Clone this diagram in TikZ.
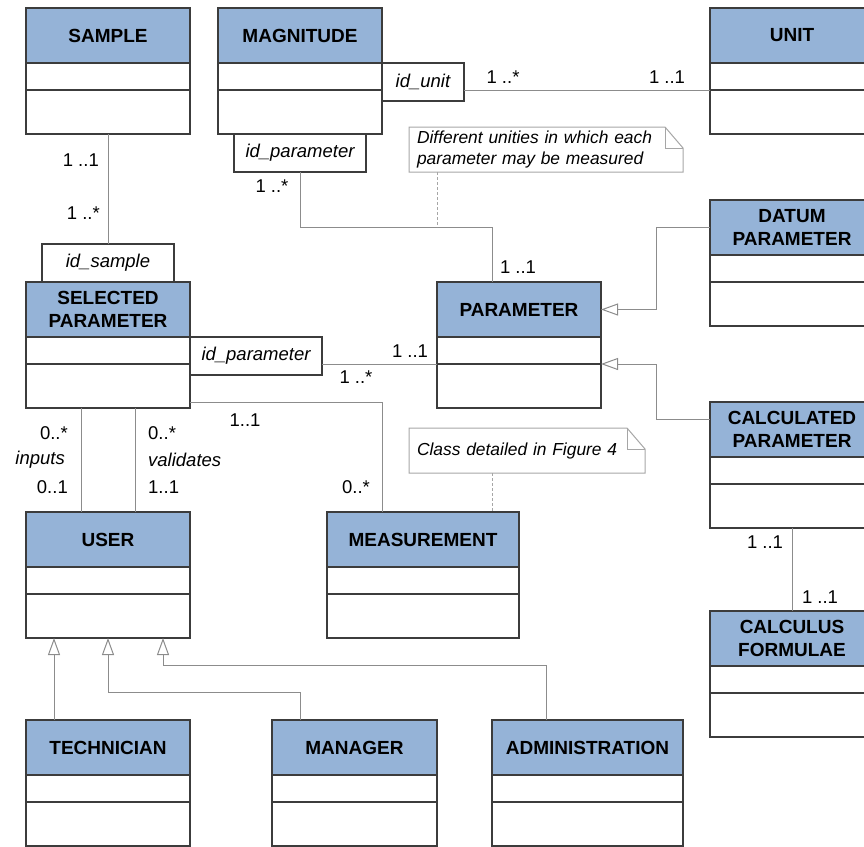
\documentclass[tikz,border=0pt]{standalone}
\usepackage{fontspec}
\setmainfont{Liberation Sans}
\usepackage{tikz}
\usetikzlibrary{positioning,arrows.meta}

\definecolor{headblue}{HTML}{95B3D7}
\definecolor{boxline}{HTML}{3C3C3C}
\definecolor{linkgray}{HTML}{8C8C8C}
\definecolor{notegray}{HTML}{A6A6A6}

\tikzset{
  cls_head/.style = {draw = boxline, line width = 1.2pt, fill = headblue,
    minimum width = 164pt, minimum height = 55pt, inner sep = 0pt, outer sep = 0pt,
    align = center, font = \fontsize{19}{23}\selectfont\bfseries},
  cls_att/.style = {draw = boxline, line width = 1.2pt, fill = white,
    minimum width = 164pt, minimum height = 27pt, inner sep = 0pt, outer sep = 0pt},
  cls_op/.style = {cls_att, minimum height = 44pt},
  qual/.style = {draw = boxline, line width = 1.1pt, fill = white, minimum height = 38pt,
    inner sep = 0pt, outer sep = 0pt, font = \fontsize{18.5}{22}\selectfont\itshape},
  mult/.style = {inner sep = 0pt, font = \fontsize{18.5}{22}\selectfont},
  role/.style = {inner sep = 0pt, font = \fontsize{18.5}{22}\selectfont\itshape},
  note_txt/.style = {inner xsep = 8pt, inner ysep = 0pt, outer sep = 0pt, align = left,
    minimum height = 45pt, anchor = north west, font = \fontsize{17.4}{21}\selectfont\itshape},
  note_edge/.style = {draw = notegray, line width = 1pt},
  note_link/.style = {draw = notegray, line width = 1pt, dash pattern = on 3pt off 2pt},
  assoc/.style = {draw = linkgray, line width = 1pt},
  gen/.style = {assoc, -{Triangle[open, length = 17pt, width = 12pt, fill = white]}},
}

\begin{document}
\begin{tikzpicture}[x = 1pt, y = -1pt]
    \useasboundingbox (0,0) rectangle (864,846);
    \clip (0,0) rectangle (864,846);

    % classes
    \node (sample)[cls_head, anchor = north west] at (26,8) {SAMPLE};
    \node (sample_att)[cls_att, below = 0pt of sample] {};
    \node (sample_op)[cls_op, below = 0pt of sample_att] {};

    \node (magnitude)[cls_head, anchor = north west] at (218,8) {MAGNITUDE};
    \node (magnitude_att)[cls_att, below = 0pt of magnitude] {};
    \node (magnitude_op)[cls_op, below = 0pt of magnitude_att] {};

    \node (unit)[cls_head, anchor = north west] at (710,8) {UNIT};
    \node (unit_att)[cls_att, below = 0pt of unit] {};
    \node (unit_op)[cls_op, below = 0pt of unit_att] {};

    \node (datum)[cls_head, anchor = north west] at (710,200) {DATUM\\PARAMETER};
    \node (datum_att)[cls_att, below = 0pt of datum] {};
    \node (datum_op)[cls_op, below = 0pt of datum_att] {};

    \node (selparam)[cls_head, anchor = north west] at (26,282) {SELECTED\\PARAMETER};
    \node (selparam_att)[cls_att, below = 0pt of selparam] {};
    \node (selparam_op)[cls_op, below = 0pt of selparam_att] {};

    \node (param)[cls_head, anchor = north west] at (437,282) {PARAMETER};
    \node (param_att)[cls_att, below = 0pt of param] {};
    \node (param_op)[cls_op, below = 0pt of param_att] {};

    \node (calc)[cls_head, anchor = north west] at (710,402) {CALCULATED\\PARAMETER};
    \node (calc_att)[cls_att, below = 0pt of calc] {};
    \node (calc_op)[cls_op, below = 0pt of calc_att] {};

    \node (formula)[cls_head, anchor = north west] at (710,611) {CALCULUS\\FORMULAE};
    \node (formula_att)[cls_att, below = 0pt of formula] {};
    \node (formula_op)[cls_op, below = 0pt of formula_att] {};

    \node (user)[cls_head, anchor = north west] at (26,512) {USER};
    \node (user_att)[cls_att, below = 0pt of user] {};
    \node (user_op)[cls_op, below = 0pt of user_att] {};

    \node (measure)[cls_head, anchor = north west, minimum width = 192pt] at (327,512) {MEASUREMENT};
    \node (measure_att)[cls_att, minimum width = 192pt, below = 0pt of measure] {};
    \node (measure_op)[cls_op, minimum width = 192pt, below = 0pt of measure_att] {};

    \node (tech)[cls_head, anchor = north west] at (26,720) {TECHNICIAN};
    \node (tech_att)[cls_att, below = 0pt of tech] {};
    \node (tech_op)[cls_op, below = 0pt of tech_att] {};

    \node (manager)[cls_head, anchor = north west, minimum width = 165pt] at (272,720) {MANAGER};
    \node (manager_att)[cls_att, minimum width = 165pt, below = 0pt of manager] {};
    \node (manager_op)[cls_op, minimum width = 165pt, below = 0pt of manager_att] {};

    \node (admin)[cls_head, anchor = north west, minimum width = 191pt] at (492,720) {ADMINISTRATION};
    \node (admin_att)[cls_att, minimum width = 191pt, below = 0pt of admin] {};
    \node (admin_op)[cls_op, minimum width = 191pt, below = 0pt of admin_att] {};

    % qualifiers
    \node (q_unit)[qual, anchor = north west, minimum width = 82pt] at (magnitude.south east) {id\_unit};
    \node (q_parammag)[qual, anchor = north, minimum width = 132pt] at (magnitude_op.south) {id\_parameter};
    \node (q_sample)[qual, anchor = south, minimum width = 132pt] at (selparam.north) {id\_sample};
    \node (q_paramsel)[qual, anchor = north west, minimum width = 132pt] at (selparam.south east) {id\_parameter};

    % notes
    \node (note_unit)[note_txt, text width = 258pt] at (409,127)
        {Different unities in which each\\parameter may be measured};
    \draw[note_edge] (note_unit.north west) -- ([xshift = -18pt]note_unit.north east)
        -- ([yshift = -21pt]note_unit.north east) -- (note_unit.south east)
        -- (note_unit.south west) -- cycle;
    \draw[note_edge] ([xshift = -18pt]note_unit.north east) |- ([yshift = -21pt]note_unit.north east);

    \node (note_fig)[note_txt, text width = 220pt] at (409,428) {Class detailed in Figure 4};
    \draw[note_edge] (note_fig.north west) -- ([xshift = -18pt]note_fig.north east)
        -- ([yshift = -21pt]note_fig.north east) -- (note_fig.south east)
        -- (note_fig.south west) -- cycle;
    \draw[note_edge] ([xshift = -18pt]note_fig.north east) |- ([yshift = -21pt]note_fig.north east);

    % associations
    \coordinate (mag_bend) at (492,227);
    \path[assoc] (sample_op.south) edge (q_sample.north);
    \path[assoc] (q_unit.east |- unit_op.north) edge (unit_op.north west);
    \draw[assoc] (q_parammag.south) |- (mag_bend) -- (mag_bend |- param.north);
    \path[assoc] (q_paramsel.east |- param_op.north) edge (param_op.north west);
    \draw[assoc] ([xshift = -27pt]selparam_op.south) -- ([xshift = -27pt]user.north);
    \draw[assoc] ([xshift = 27pt]selparam_op.south) -- ([xshift = 27pt]user.north);
    \draw[assoc] ([yshift = 6pt]selparam_op.south east) -| ([xshift = 55pt]measure.north west);
    \draw[assoc] (calc_op.south) -- (formula.north);

    \draw[note_link] ([xshift = 28pt]note_unit.south west) -- ([xshift = 28pt]note_unit.south west |- mag_bend);
    \draw[note_link] ([xshift = 83pt]note_fig.south west) -- ([xshift = 83pt]note_fig.south west |- measure.north);

    % generalizations
    \draw[gen] (datum.west) -- ++(-54,0) |- (param.east);
    \draw[gen] ([yshift = 10pt]calc.west) -- ++(-54,0) |- (param_op.north east);
    \draw[gen] ([xshift = 28pt]tech.north west) -- ([xshift = 28pt]user_op.south west);
    \draw[gen] ([xshift = 28pt]manager.north west) -- ++(0,-28) -| (user_op.south);
    \draw[gen] ([xshift = 54pt]admin.north west) -- ++(0,-55) -| ([xshift = 55pt]user_op.south);

    % multiplicities
    \node (m_sample_1)[mult, anchor = east] at (99,160) {1 ..1};
    \node (m_sample_2)[mult, anchor = east] at (100,213) {1 ..*};
    \node (m_mag_param)[mult] at (272,186) {1 ..*};
    \node (m_unit_1)[mult] at (503,77) {1 ..*};
    \node (m_unit_2)[mult] at (667,77) {1 ..1};
    \node (m_param_top)[mult] at (518,267) {1 ..1};
    \node (m_param_sel_1)[mult] at (410,351) {1 ..1};
    \node (m_param_sel_2)[mult] at (356,377) {1 ..*};
    \node (m_inputs_1)[mult, anchor = east] at (68,433) {0..*};
    \node (r_inputs)[role, anchor = east] at (65,460) {inputs};
    \node (m_inputs_2)[mult, anchor = east] at (68,487) {0..1};
    \node (m_valid_1)[mult, anchor = west] at (148,433) {0..*};
    \node (r_valid)[role, anchor = west] at (148,460) {validates};
    \node (m_valid_2)[mult, anchor = west] at (148,487) {1..1};
    \node (m_meas_1)[mult] at (245,420) {1..1};
    \node (m_meas_2)[mult] at (356,487) {0..*};
    \node (m_calc_1)[mult] at (765,542) {1 ..1};
    \node (m_calc_2)[mult] at (820,597) {1 ..1};
\end{tikzpicture}
\end{document}
